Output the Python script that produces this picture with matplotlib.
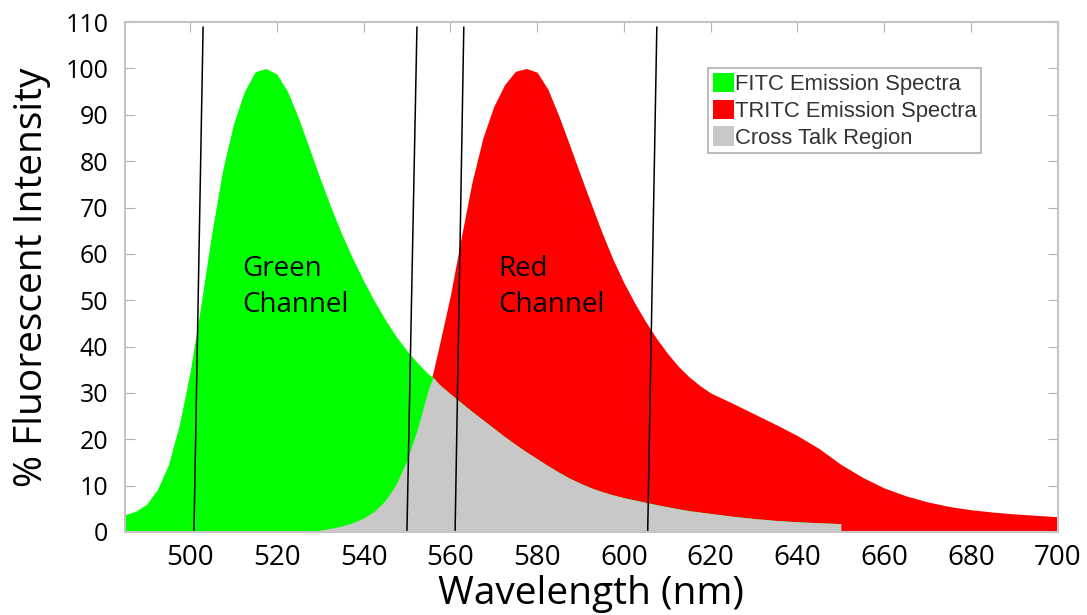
import numpy as np
import matplotlib
matplotlib.use("Agg")
import matplotlib.pyplot as plt
from matplotlib.patches import Patch

plt.rcParams["font.family"] = ["Open Sans", "DejaVu Sans"]

# wavelength grid (nm) shared by both spectra
wavelength = [485, 487.5, 490, 492.5, 495, 497.5, 500, 502.5, 505, 507.5,
              510, 512.5, 515, 517.5, 520, 522.5, 525, 527.5, 530, 532.5,
              535, 537.5, 540, 542.5, 545, 547.5, 550, 552.5, 555, 556,
              557.5, 560, 562.5, 565, 567.5, 570, 572.5, 575, 577.5, 580,
              582.5, 585, 587.5, 590, 592.5, 595, 597.5, 600, 602.5, 605,
              607.5, 610, 612.5, 615, 617.5, 620, 625, 630, 635, 640,
              645, 650, 655, 660, 665, 670, 675, 680, 685, 690, 695, 700]

# FITC emission (%), data stops around 651 nm
fitc = [3.7, 4.5, 6.0, 9.2, 14.5, 23, 34.5, 49, 64.5, 78,
        88, 95, 99.3, 100, 98.8, 95, 89.3, 82.8, 76.2, 70,
        64.2, 59, 54.2, 49.8, 45.8, 42.2, 39.1, 36.4, 34, 33.4,
        31.8, 29.8, 27.9, 26, 24.2, 22.4, 20.6, 18.9, 17.3, 15.8,
        14.3, 12.9, 11.6, 10.5, 9.5, 8.7, 8.0, 7.4, 6.9, 6.4,
        5.9, 5.45, 5.0, 4.6, 4.3, 4.0, 3.4, 2.9, 2.5, 2.2,
        2.0, 1.8, np.nan, np.nan, np.nan, np.nan, np.nan, np.nan, np.nan, np.nan,
        np.nan, np.nan]

# TRITC emission (%)
tritc = [0, 0, 0, 0, 0, 0, 0, 0, 0, 0,
         0, 0, 0, 0, 0, 0, 0, 0.1, 0.4, 0.8,
         1.3, 2.0, 3.0, 4.5, 6.8, 10.3, 15.5, 22.5, 31, 34.4,
         40.5, 51, 63.5, 75.5, 85, 91.8, 96.5, 99.4, 100, 99.2,
         95.5, 89.8, 83.5, 77, 70.7, 64.5, 58.8, 53.8, 49.4, 45.4,
         41.8, 38.6, 35.8, 33.5, 31.6, 30, 27.8, 25.5, 23.2, 20.8,
         18.0, 14.6, 11.8, 9.5, 7.8, 6.5, 5.5, 4.8, 4.3, 3.9,
         3.6, 3.3]

# filter edge lines drawn over the plot (nm at bottom / top)
edge_bottom = [500.9, 550.0, 561.1, 605.5]
edge_top = [503.0, 552.3, 563.1, 607.6]

x_ticks = [500, 520, 540, 560, 580, 600, 620, 640, 660, 680, 700]
y_ticks = [0, 10, 20, 30, 40, 50, 60, 70, 80, 90, 100, 110]

wl = np.array(wavelength)
g = np.array(fitc, dtype=float)
r = np.array(tritc, dtype=float)
overlap = np.minimum(g, r)

GREEN = "#00ff00"
RED = "#ff0000"
GRAY = "#c8c8c8"

fig = plt.figure(figsize=(10.87, 6.15), dpi=100)
ax = fig.add_axes([0.115, 0.135, 0.858, 0.829])

ax.fill_between(wl, 0, r, color=RED, lw=0)
ax.fill_between(wl, 0, g, color=GREEN, lw=0)
ax.fill_between(wl, 0, overlap, color=GRAY, lw=0)

for xb, xt in zip(edge_bottom, edge_top):
    ax.plot([xb, xt], [0.4, 108.9], color="black", lw=1.1)

ax.text(512.0, 59.8, "Green\nChannel", fontsize=20, va="top", ha="left",
        linespacing=1.4)
ax.text(571.0, 59.8, "Red\nChannel", fontsize=20, va="top", ha="left",
        linespacing=1.4)

ax.set_xlim(485, 700)
ax.set_ylim(0, 110)
ax.set_xticks(x_ticks)
ax.set_yticks(y_ticks)
ax.set_xticklabels([str(v) for v in x_ticks],
                   family=["Liberation Sans Narrow", "Open Sans"], fontsize=20)
ax.tick_params(axis="y", labelsize=18, direction="in", length=7,
               color="#b5b5b5", pad=12, right=True)
ax.tick_params(axis="x", length=0, pad=9)
ax.tick_params(axis="x", which="major", top=True)
ax.xaxis.set_tick_params(which="major", direction="in", color="#b5b5b5")
for t in ax.xaxis.get_major_ticks():
    t.tick2line.set_markersize(7)

for s in ax.spines.values():
    s.set_color("#c4c4c4")
    s.set_linewidth(1.5)

ax.set_xlabel("Wavelength (nm)", fontsize=28, labelpad=2)
ax.set_ylabel("% Fluorescent Intensity", fontsize=28, labelpad=10)

handles = [Patch(color=GREEN, lw=0), Patch(color=RED, lw=0), Patch(color=GRAY, lw=0)]
labels = ["FITC Emission Spectra", "TRITC Emission Spectra", "Cross Talk Region"]
leg = ax.legend(handles, labels, loc="upper left", bbox_to_anchor=(0.625, 0.91),
                borderaxespad=0, fancybox=False, framealpha=1,
                prop={"family": ["Liberation Sans", "DejaVu Sans"], "size": 15.8},
                handlelength=0.95, handleheight=1.0, handletextpad=0.06,
                labelspacing=0.2, borderpad=0.22)
leg.get_frame().set_edgecolor("#b0b0b0")
leg.get_frame().set_linewidth(1.2)
for txt in leg.get_texts():
    txt.set_color("#333333")

fig.savefig("out.png", dpi=100)
